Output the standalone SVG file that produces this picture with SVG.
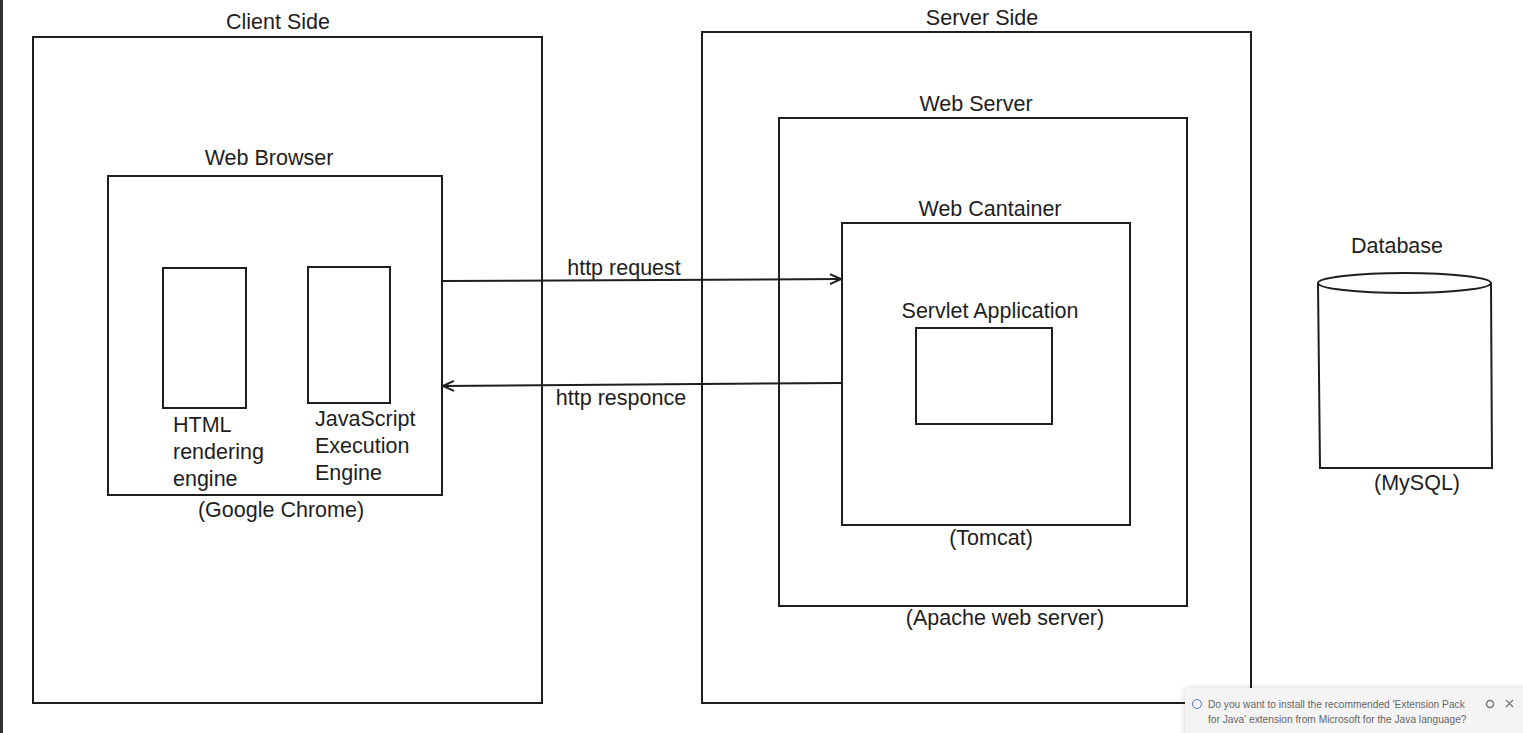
<svg xmlns="http://www.w3.org/2000/svg" width="1523" height="733" viewBox="0 0 1523 733">
<defs>
<style>
.box{fill:none;stroke:#1e1e1e;stroke-width:2}
.lbl{font-family:"Liberation Sans",Arial,sans-serif;font-size:21.5px;fill:#1e1e1e}
.c{text-anchor:middle}
.conn{fill:none;stroke:#1e1e1e;stroke-width:2}
.note{font-family:"Liberation Sans",Arial,sans-serif;font-size:10.2px;fill:#666}
</style>
<marker id="arr" markerWidth="14" markerHeight="12" refX="12" refY="6" orient="auto" markerUnits="userSpaceOnUse">
<path d="M1,1 L12,6 L1,11" fill="none" stroke="#1e1e1e" stroke-width="2"/>
</marker>
<filter id="sh" x="-10%" y="-30%" width="120%" height="160%">
<feDropShadow dx="0" dy="0" stdDeviation="3" flood-color="#000" flood-opacity="0.18"/>
</filter>
</defs>
<rect x="0" y="0" width="1523" height="733" fill="#ffffff"/>
<rect x="0" y="0" width="3" height="733" fill="#333"/>

<g id="client-side">
<rect class="box" x="33" y="37" width="509" height="666"/>
<text class="lbl c" x="278" y="29">Client Side</text>
</g>
<g id="web-browser">
<rect class="box" x="108" y="176" width="334" height="319"/>
<text class="lbl c" x="269" y="165">Web Browser</text>
<text class="lbl c" x="281" y="517">(Google Chrome)</text>
</g>
<g id="html-engine">
<rect class="box" x="163" y="268" width="83" height="140"/>
<text class="lbl" x="173" y="432">HTML</text>
<text class="lbl" x="173" y="459">rendering</text>
<text class="lbl" x="173" y="486">engine</text>
</g>
<g id="js-engine">
<rect class="box" x="308" y="267" width="82" height="136"/>
<text class="lbl" x="315" y="426">JavaScript</text>
<text class="lbl" x="315" y="453">Execution</text>
<text class="lbl" x="315" y="480">Engine</text>
</g>

<g id="server-side">
<rect class="box" x="702" y="32" width="549" height="671"/>
<text class="lbl c" x="982" y="25">Server Side</text>
</g>
<g id="web-server">
<rect class="box" x="779" y="118" width="408" height="488"/>
<text class="lbl c" x="976" y="111">Web Server</text>
<text class="lbl c" x="1005" y="625">(Apache web server)</text>
</g>
<g id="web-container">
<rect class="box" x="842" y="223" width="288" height="302"/>
<text class="lbl c" x="990" y="216">Web Cantainer</text>
<text class="lbl c" x="991" y="545">(Tomcat)</text>
</g>
<g id="servlet-app">
<rect class="box" x="916" y="328" width="136" height="96"/>
<text class="lbl c" x="990" y="318">Servlet Application</text>
</g>

<g id="database">
<path class="box" d="M1318,283 L1320,468 L1492,468 L1491,283"/>
<ellipse class="box" cx="1404.5" cy="283" rx="86.5" ry="10" fill="#fff"/>
<text class="lbl c" x="1397" y="253">Database</text>
<text class="lbl c" x="1417" y="490">(MySQL)</text>
</g>

<g id="connectors">
<path class="conn" d="M442,281 L841,279" marker-end="url(#arr)"/>
<text class="lbl c" x="624" y="275">http request</text>
<path class="conn" d="M842,383 L443,386" marker-end="url(#arr)"/>
<text class="lbl c" x="621" y="405">http responce</text>
</g>

<g id="notification">
<rect x="1185" y="688" width="345" height="50" rx="4" fill="#f4f4f4" filter="url(#sh)"/>
<circle cx="1197" cy="704" r="4.5" fill="none" stroke="#4a7fd0" stroke-width="1"/>
<text class="note" x="1208" y="708">Do you want to install the recommended 'Extension Pack</text>
<text class="note" x="1208" y="723">for Java' extension from Microsoft for the Java language?</text>
<circle cx="1490" cy="704" r="3.5" fill="none" stroke="#777" stroke-width="1.5"/>
<path d="M1506,700 L1513,707 M1513,700 L1506,707" stroke="#777" stroke-width="1.2"/>
</g>
</svg>
